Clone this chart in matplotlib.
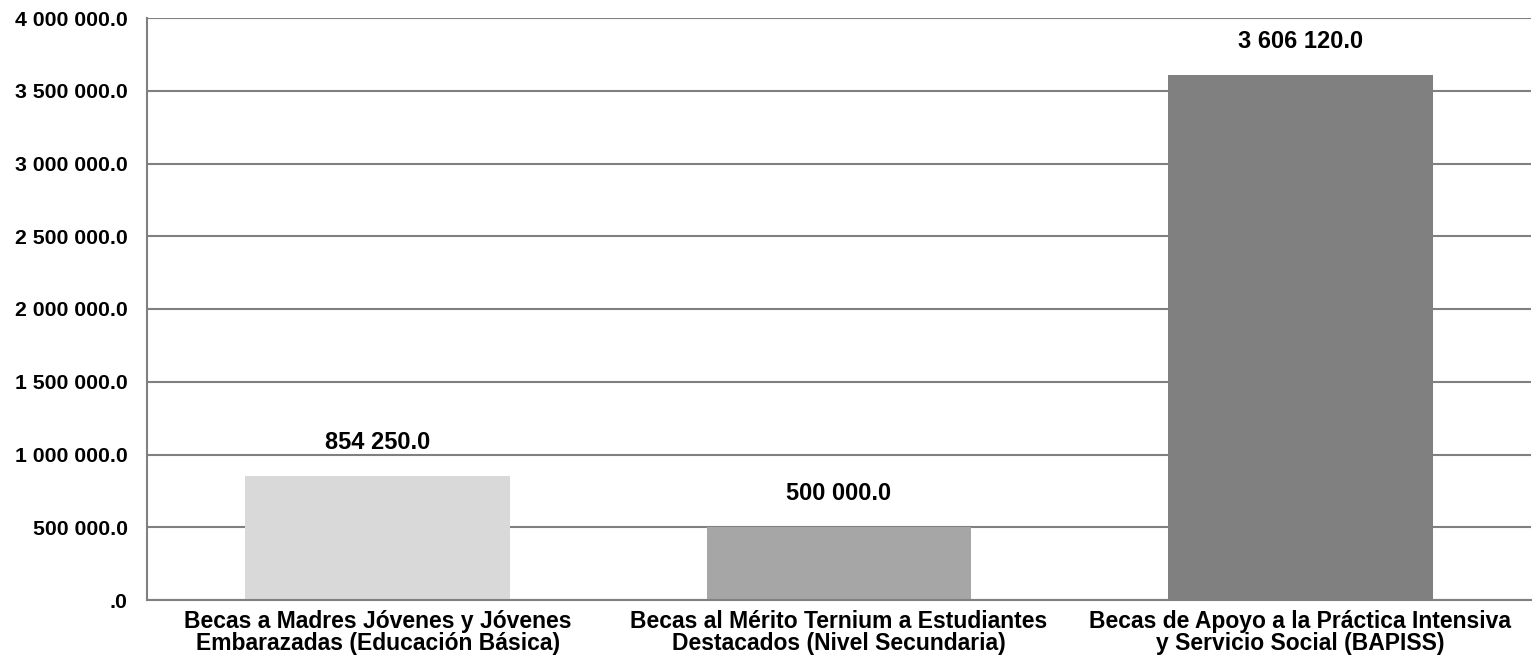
import matplotlib
matplotlib.use("Agg")
from matplotlib import pyplot as plt
from matplotlib.ticker import FuncFormatter

categories = ["Becas a Madres Jóvenes y Jóvenes\nEmbarazadas (Educación Básica)",
              "Becas al Mérito Ternium a Estudiantes\nDestacados (Nivel Secundaria)",
              "Becas de Apoyo a la Práctica Intensiva\ny Servicio Social (BAPISS)"]
values = [854250.0, 500000.0, 3606120.0]
bar_colors = ["#D9D9D9", "#A6A6A6", "#808080"]
y_ticks = [0, 500000, 1000000, 1500000, 2000000, 2500000, 3000000, 3500000, 4000000]


def fmt(v, pos=None):
    s = "{:,.1f}".format(v).replace(",", " ")
    if s.startswith("0."):
        s = s[1:]
    return s


plt.rcParams['font.family'] = ['Liberation Sans', 'DejaVu Sans']
plt.rcParams['font.weight'] = 'bold'

fig = plt.figure(figsize=(15.34, 6.71), dpi=100)
ax = fig.add_axes([147 / 1534, 71 / 671, 1384 / 1534, 582 / 671])

x = range(len(categories))
ax.bar(x, values, width=0.574, color=bar_colors, zorder=2)
for xi, v in zip(x, values):
    ax.annotate(fmt(v), (xi, v), xytext=(0, 24), textcoords='offset points',
                ha='center', va='center', fontsize=17, fontweight='bold')

ax.set_xlim(-0.5, 2.5)
ax.set_ylim(0, 4000000)
ax.set_yticks(y_ticks)
ax.yaxis.set_major_formatter(FuncFormatter(fmt))
ax.set_xticks(list(x))
ax.set_xticklabels(categories, fontsize=16.5, fontweight='bold', linespacing=0.95)
ax.tick_params(axis='y', labelsize=15.3, length=0, pad=14)
ax.tick_params(axis='x', length=0, pad=7)
ax.grid(axis='y', color='#808080', linewidth=1.5, zorder=1)
for s in ['top', 'right']:
    ax.spines[s].set_visible(False)
for s in ['left', 'bottom']:
    ax.spines[s].set_color('#808080')
    ax.spines[s].set_linewidth(1.5)

fig.savefig("out.png", dpi=100)
